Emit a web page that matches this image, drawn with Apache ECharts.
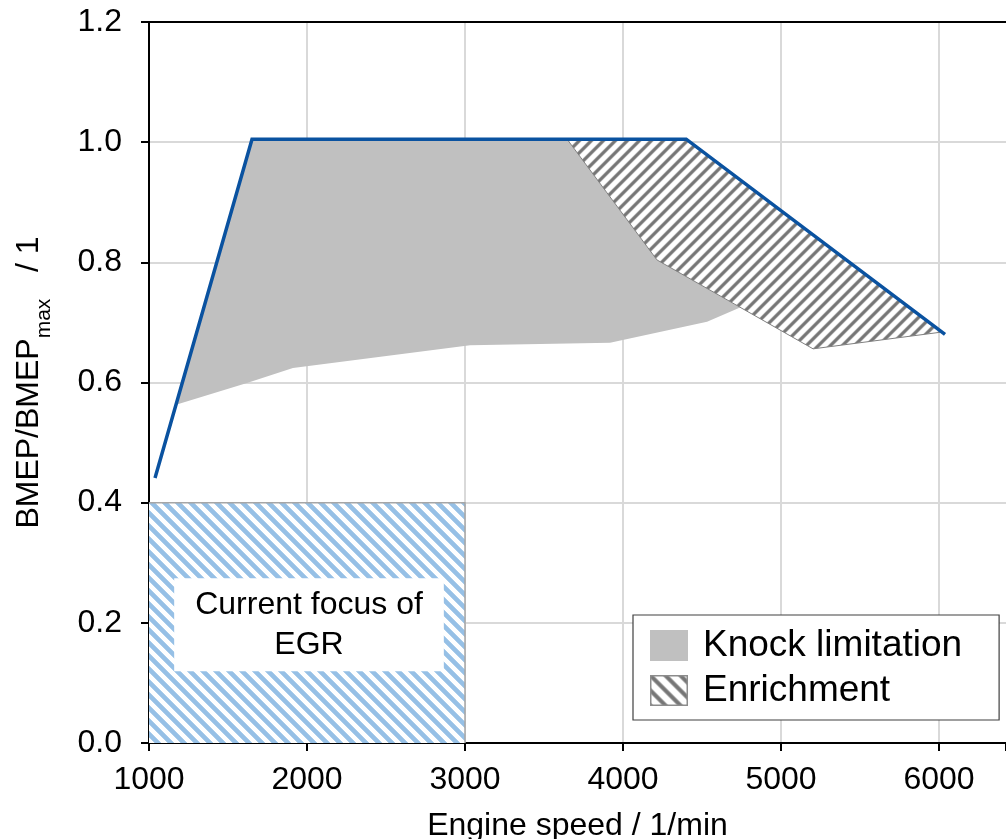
<!DOCTYPE html>
<html>
<head>
<meta charset="utf-8">
<script src="https://cdn.jsdelivr.net/npm/echarts@6/dist/echarts.min.js"></script>
<style>
  html, body { margin: 0; padding: 0; background: #fff; }
  #chart { width: 1006px; height: 839px; }
</style>
</head>
<body>
<div id="chart"></div>
<script>
// Full-load curve (normalised BMEP over engine speed)
const wotSpeed = [1038, 1652, 4400, 6038];
const wotLoad  = [0.441, 1.005, 1.005, 0.680];

// Knock-limited region outline
const knockSpeed = [1171, 1652, 3646, 4215, 4741, 4532, 3918, 3032, 1911, 1620];
const knockLoad  = [0.563, 1.005, 1.005, 0.804, 0.725, 0.701, 0.666, 0.662, 0.624, 0.599];

// Enrichment region outline
const enrichSpeed = [3646, 4400, 6020, 5203, 4215];
const enrichLoad  = [1.005, 1.005, 0.684, 0.656, 0.804];

// Area currently covered by EGR
const egrSpeed = [1000, 3000];
const egrLoad  = [0.0, 0.4];
const egrText  = 'Current focus of\nEGR';

const seriesNames = ['Knock limitation', 'Enrichment'];
const xTickValues = [1000, 2000, 3000, 4000, 5000, 6000];

const FONT = '"Liberation Sans", Arial, Helvetica, sans-serif';

const zip = (xs, ys) => xs.map((x, i) => [x, ys[i]]);

function smoothstep(e0, e1, v) {
  const t = Math.min(1, Math.max(0, (v - e0) / (e1 - e0)));
  return t * t * (3 - 2 * t);
}

// Soft diagonal stripes; dir = 1 draws "/" stripes, dir = -1 draws "\" stripes
function stripeCanvas(w, h, period, dir, rgb, e0, e1, border) {
  const c = document.createElement('canvas');
  c.width = w; c.height = h;
  const ctx = c.getContext('2d');
  const img = ctx.createImageData(w, h);
  for (let y = 0; y < h; y++) {
    for (let x = 0; x < w; x++) {
      const t = dir > 0 ? (x + 0.5) + (y + 0.5) : (x + 0.5) - (y + 0.5) + period * 100;
      const phase = ((t % period) / period) * Math.PI * 2;
      const v = 0.5 + 0.5 * Math.cos(phase);
      const a = smoothstep(e0, e1, v);
      const i = (y * w + x) * 4;
      img.data[i]     = Math.round(255 + (rgb[0] - 255) * a);
      img.data[i + 1] = Math.round(255 + (rgb[1] - 255) * a);
      img.data[i + 2] = Math.round(255 + (rgb[2] - 255) * a);
      img.data[i + 3] = 255;
    }
  }
  ctx.putImageData(img, 0, 0);
  if (border) {
    ctx.strokeStyle = border;
    ctx.lineWidth = 1.5;
    ctx.strokeRect(0.75, 0.75, w - 1.5, h - 1.5);
  }
  return c;
}

const egrTile    = stripeCanvas(13, 13, 13, -1, [150, 192, 230], 0.35, 0.65);
const enrichTile = stripeCanvas(12, 12, 12, 1, [118, 118, 118], 0.35, 0.98);
const enrichIcon = stripeCanvas(38, 31, 15, -1, [118, 118, 118], 0.35, 0.98, '#8c8c8c');

function polygonSeries(name, pts, fill, stroke) {
  return {
    type: 'custom',
    name: name,
    coordinateSystem: 'cartesian2d',
    data: pts,
    z: 2,
    itemStyle: { color: typeof fill === 'string' ? fill : '#a0a0a0' },
    renderItem: function (params, api) {
      if (params.dataIndex !== 0) return null;
      const points = pts.map(p => api.coord(p));
      return {
        type: 'polygon',
        shape: { points: points },
        style: {
          fill: fill,
          stroke: stroke || null,
          lineWidth: stroke ? 1 : 0
        }
      };
    }
  };
}

const chart = echarts.init(document.getElementById('chart'), null, { renderer: 'canvas' });

const option = {
  animation: false,
  backgroundColor: '#fff',
  grid: { left: 149, right: 0, top: 22, bottom: 96, containLabel: false, outerBoundsMode: 'none' },
  legend: {
    orient: 'vertical',
    left: 633,
    top: 615,
    itemWidth: 38,
    itemHeight: 31,
    itemGap: 8,
    padding: [12, 37, 11, 17],
    borderColor: '#404040',
    borderWidth: 1.2,
    borderRadius: 0,
    backgroundColor: '#fff',
    selectedMode: false,
    textStyle: { fontSize: 37, fontFamily: FONT, color: '#000', padding: [0, 0, 0, 10] },
    data: [
      { name: seriesNames[0], icon: 'rect' },
      { name: seriesNames[1], icon: 'image://' + enrichIcon.toDataURL() }
    ]
  },
  xAxis: [
    {
      type: 'value',
      position: 'bottom',
      min: 1000,
      max: 6424,
      interval: 1000,
      name: 'Engine speed / 1/min',
      nameLocation: 'middle',
      nameGap: 67,
      nameTextStyle: { fontSize: 32, fontFamily: FONT, color: '#000' },
      axisLine: { show: true, onZero: false, lineStyle: { color: '#000', width: 2 } },
      axisTick: { show: true, inside: false, length: 8, lineStyle: { color: '#000', width: 2 } },
      axisLabel: {
        margin: 21,
        fontSize: 32,
        fontFamily: FONT,
        color: '#000',
        formatter: v => (xTickValues.indexOf(v) >= 0 ? String(v) : '')
      },
      splitLine: { show: true, showMinLine: false, showMaxLine: false, lineStyle: { color: '#d9d9d9', width: 2 } }
    },
    {
      type: 'value',
      position: 'top',
      min: 1000,
      max: 6424,
      axisLine: { show: true, onZero: false, lineStyle: { color: '#000', width: 2 } },
      axisTick: { show: false },
      axisLabel: { show: false },
      splitLine: { show: false }
    }
  ],
  yAxis: {
    type: 'value',
    min: 0,
    max: 1.2,
    interval: 0.2,
    name: '{m|BMEP/BMEP}{s|max}{m|   / 1}',
    nameLocation: 'middle',
    nameGap: 100,
    nameTextStyle: {
      rich: {
        m: { fontSize: 32, fontFamily: FONT, color: '#000', lineHeight: 36, verticalAlign: 'top' },
        s: { fontSize: 21, fontFamily: FONT, color: '#000', lineHeight: 21, padding: [21, 0, 0, 0], verticalAlign: 'top' }
      }
    },
    axisLine: { show: true, onZero: false, lineStyle: { color: '#000', width: 2 } },
    axisTick: { show: true, inside: false, length: 8, lineStyle: { color: '#000', width: 2 } },
    axisLabel: {
      margin: 27,
      fontSize: 32,
      fontFamily: FONT,
      color: '#000',
      formatter: v => v.toFixed(1)
    },
    splitLine: { show: true, showMinLine: false, showMaxLine: false, lineStyle: { color: '#d9d9d9', width: 2 } }
  },
  series: [
    {
      type: 'custom',
      name: 'EGR',
      coordinateSystem: 'cartesian2d',
      data: [[egrSpeed[0], egrSpeed[1], egrLoad[0], egrLoad[1]]],
      z: 2,
      renderItem: function (params, api) {
        const tl = api.coord([api.value(0), api.value(3)]);
        const br = api.coord([api.value(1), api.value(2)]);
        const cx = (tl[0] + br[0]) / 2;
        const cy = (tl[1] + br[1]) / 2;
        return {
          type: 'group',
          children: [
            {
              type: 'rect',
              shape: { x: tl[0], y: tl[1], width: br[0] - tl[0], height: br[1] - tl[1] },
              style: { fill: { image: egrTile, repeat: 'repeat' } }
            },
            {
              type: 'polyline',
              shape: { points: [[tl[0], tl[1]], [br[0], tl[1]], [br[0], br[1]]] },
              style: { stroke: '#a6a6a6', lineWidth: 1.5, fill: null }
            },
            {
              type: 'text',
              x: cx + 2,
              y: cy + 2,
              style: {
                text: egrText,
                fill: '#000',
                fontSize: 32,
                fontFamily: FONT,
                lineHeight: 40,
                align: 'center',
                verticalAlign: 'middle',
                backgroundColor: '#fff',
                padding: [7, 21, 6, 21]
              }
            }
          ]
        };
      }
    },
    polygonSeries(seriesNames[0], zip(knockSpeed, knockLoad), '#c0c0c0', null),
    polygonSeries(seriesNames[1], zip(enrichSpeed, enrichLoad), { image: enrichTile, repeat: 'repeat' }, '#7f7f7f'),
    {
      type: 'line',
      name: 'Full load',
      data: zip(wotSpeed, wotLoad),
      symbol: 'none',
      z: 4,
      lineStyle: { color: '#0a52a0', width: 3.5, cap: 'butt', join: 'miter' },
      itemStyle: { color: '#0a52a0' }
    }
  ]
};

chart.setOption(option);
</script>
</body>
</html>
